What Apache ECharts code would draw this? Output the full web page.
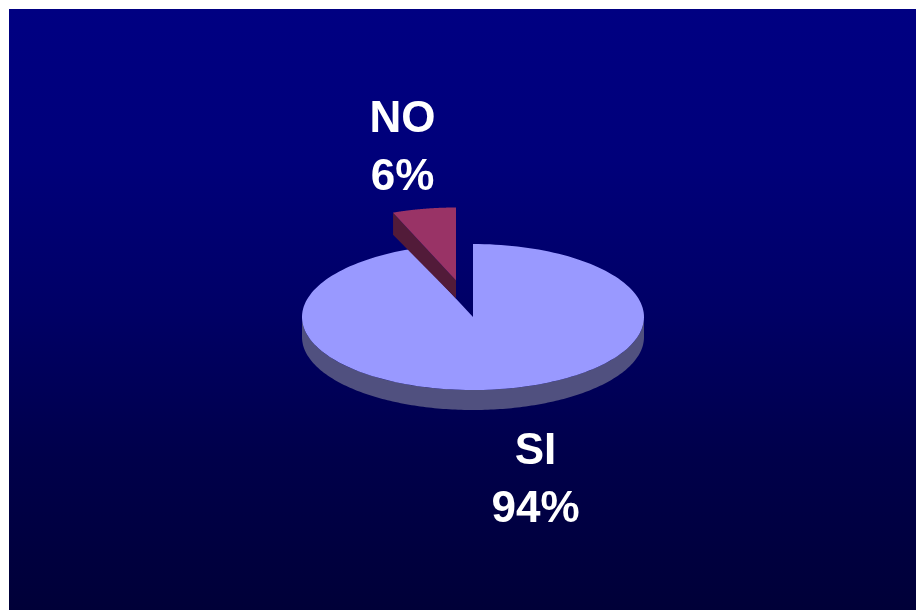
<!DOCTYPE html>
<html>
<head>
<meta charset="utf-8">
<style>html,body{margin:0;padding:0;background:#fff}#c{width:916px;height:610px}</style>
<script src="https://cdn.jsdelivr.net/npm/echarts@6/dist/echarts.min.js"></script>
</head>
<body>
<div id="c"></div>
<script>
const categories = ['SI', 'NO'];
const shares = [94, 6];
const tickLabels = ['94%', '6%'];

const topColors = ['#9999ff', '#993366'];
const sideColors = ['#50507f', '#521b39'];
const centers = [[473, 317], [456, 280.5]];
const labelPos = [[535.5, 480.5], [402.5, 148.5]];
const RX = 171, RY = 73, DEPTH = 20;

const total = shares.reduce((a, b) => a + b, 0);
function startFrac(i) { let s = 0; for (let k = 0; k < i; k++) s += shares[k]; return s / total; }

function pt(c, ang, dy) {
  return [c[0] + RX * Math.sin(ang), c[1] - RY * Math.cos(ang) + (dy || 0)];
}

function renderItem(params, api) {
  const i = params.dataIndex;
  const v = api.value(0);
  const a0 = startFrac(i) * 2 * Math.PI;
  const a1 = a0 + v / total * 2 * Math.PI;
  const c = centers[i];
  const n = 180;
  const top = [c];
  for (let k = 0; k <= n; k++) top.push(pt(c, a0 + (a1 - a0) * k / n));
  const children = [];
  // outer wall: only the front half of the rim is visible
  const f0 = Math.max(a0, Math.PI / 2), f1 = Math.min(a1, 3 * Math.PI / 2);
  if (f1 > f0) {
    const up = [], down = [];
    for (let k = 0; k <= n; k++) {
      const a = f0 + (f1 - f0) * k / n;
      up.push(pt(c, a));
      down.unshift(pt(c, a, DEPTH));
    }
    children.push({ type: 'polygon', shape: { points: up.concat(down) }, style: { fill: sideColors[i] } });
  }
  // cut wall facing the viewer
  if (a1 > 3 * Math.PI / 2 && a0 > Math.PI) {
    const o = pt(c, a0);
    children.push({
      type: 'polygon',
      shape: { points: [o, c, [c[0], c[1] + DEPTH - 2], [o[0], o[1] + DEPTH + 2]] },
      style: { fill: sideColors[i] }
    });
  }
  children.push({ type: 'polygon', shape: { points: top }, style: { fill: topColors[i] } });
  children.push({
    type: 'text', x: labelPos[i][0], y: labelPos[i][1],
    style: {
      text: categories[i] + '\n' + tickLabels[i],
      fill: '#ffffff', align: 'center', verticalAlign: 'middle',
      font: 'bold 44px "Liberation Sans", Arial, sans-serif', lineHeight: 58
    }
  });
  return { type: 'group', children };
}

const chart = echarts.init(document.getElementById('c'), null, { renderer: 'canvas' });
chart.setOption({
  animation: false,
  backgroundColor: '#ffffff',
  graphic: [{
    type: 'rect', z: 0, silent: true,
    shape: { x: 9, y: 9, width: 907, height: 601 },
    style: {
      fill: new echarts.graphic.LinearGradient(0, 0, 0, 1, [
        { offset: 0, color: '#000082' },
        { offset: 0.25, color: '#00007a' },
        { offset: 0.5, color: '#000066' },
        { offset: 0.75, color: '#00004a' },
        { offset: 1, color: '#000038' }
      ])
    }
  }],
  series: [{
    type: 'custom',
    coordinateSystem: 'none',
    z: 5,
    data: shares.map((v, i) => ({ name: categories[i], value: v })),
    renderItem
  }]
});
</script>
</body>
</html>
